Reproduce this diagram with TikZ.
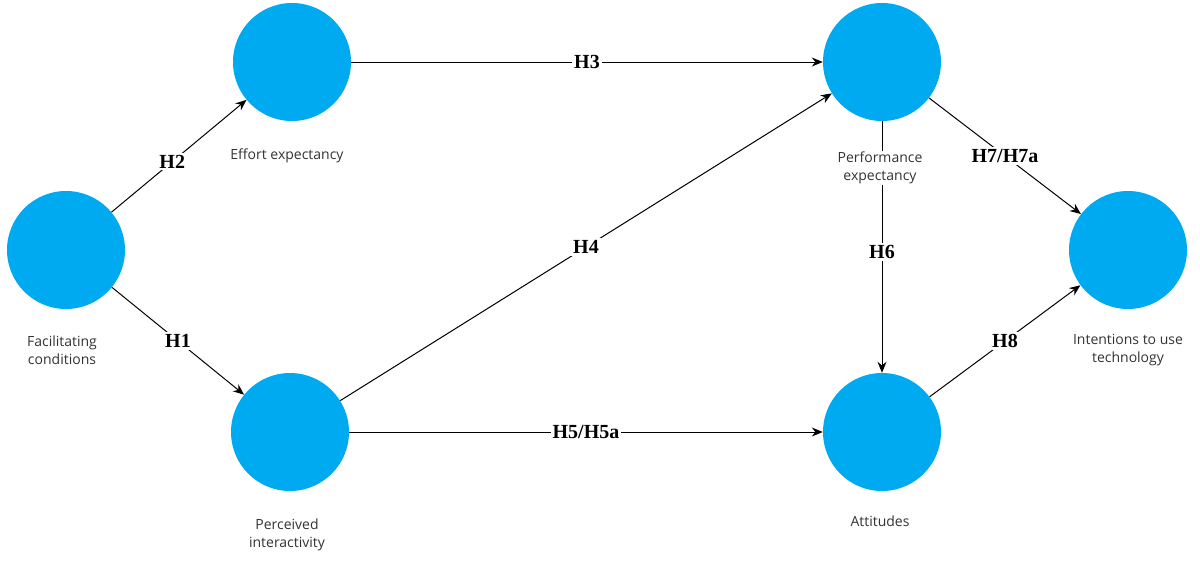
\documentclass[tikz,border=0pt]{standalone}
\usepackage{fontspec}
\setmainfont{Liberation Serif}
\newfontfamily\lblfont{Open Sans}
\usetikzlibrary{arrows.meta}
\begin{document}
\begin{tikzpicture}[x=1pt,y=-1pt,
  lv/.style={circle,fill={rgb,255:red,0;green,170;blue,240},minimum size=118pt,inner sep=0pt},
  lbl/.style={font=\lblfont\fontsize{14}{18}\selectfont,align=center,fill=white,inner sep=1pt,text=black!80},
  hyp/.style={font=\bfseries\fontsize{20}{22}\selectfont,fill=white,inner sep=2pt},
  arr/.style={-{Stealth[length=11pt,width=9pt]},line width=1pt},
  ln/.style={line width=1pt}]
\useasboundingbox (0,0) rectangle (1200,560);
\node[lv] (fc) at (66,250) {};
\node[lv] (ee) at (292,62) {};
\node[lv] (pi) at (290,432) {};
\node[lv] (pe) at (882,62) {};
\node[lv] (at) at (882,432) {};
\node[lv] (it) at (1128,250) {};
\draw[arr] (fc) -- node[hyp,pos=0.45]{H2} (ee);
\draw[arr] (fc) -- node[hyp,pos=0.5]{H1} (pi);
\draw[arr] (ee) -- node[hyp]{H3} (pe);
\draw[arr] (pi) -- node[hyp]{H4} (pe);
\draw[arr] (pi) -- node[hyp]{H5/H5a} (at);
\draw[arr] (pe) -- node[hyp,pos=0.52]{H6} (at);
\draw[arr] (pe) -- node[hyp,pos=0.5]{H7/H7a} (it);
\draw[arr] (at) -- node[hyp,pos=0.5]{H8} (it);
\node[lbl] (lee) at (287,156) {Effort expectancy};
\node[lbl] (lfc) at (62,350) {Facilitating\\conditions};
\node[lbl] (lpi) at (287,535) {Perceived\\interactivity};
\node[lbl] (lpe) at (880,168) {Performance\\expectancy};
\node[lbl] (lat) at (880,521) {Attitudes};
\node[lbl] (lit) at (1128,350) {Intentions to use\\technology};
\end{tikzpicture}
\end{document}
